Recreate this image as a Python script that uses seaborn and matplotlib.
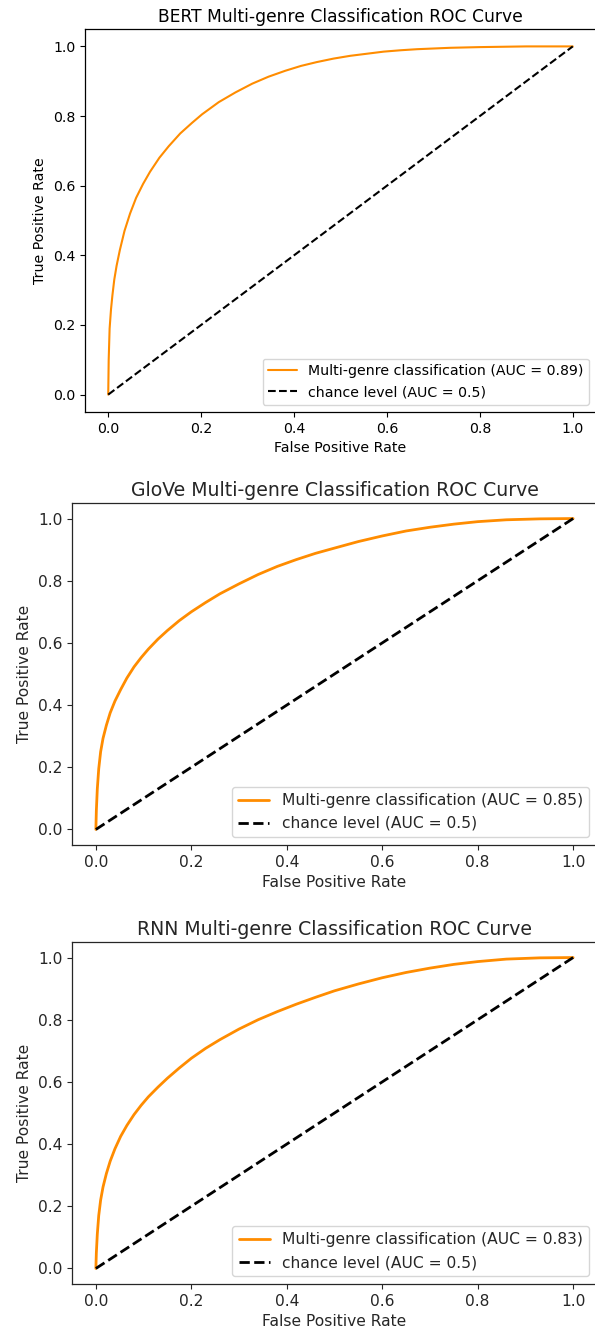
import numpy as np
import pandas as pd
import matplotlib
matplotlib.use("Agg")
import matplotlib.pyplot as plt
import seaborn as sns

# ---- data ----
models = ["BERT", "GloVe", "RNN"]
aucs = ["0.89", "0.85", "0.83"]

bert_fpr = [0.0, 0.001, 0.003, 0.006, 0.009, 0.013, 0.018, 0.025, 0.035, 0.047, 0.06, 0.075,
            0.09, 0.11, 0.13, 0.155, 0.18, 0.202, 0.238, 0.274, 0.31, 0.345, 0.381, 0.415,
            0.449, 0.485, 0.521, 0.557, 0.593, 0.63, 0.665, 0.736, 0.8, 0.9, 1.0]
bert_tpr = [0.0, 0.1, 0.19, 0.245, 0.285, 0.33, 0.37, 0.415, 0.47, 0.52, 0.565, 0.605,
            0.64, 0.68, 0.713, 0.75, 0.78, 0.805, 0.84, 0.868, 0.893, 0.913, 0.93, 0.944,
            0.955, 0.965, 0.973, 0.979, 0.985, 0.989, 0.992, 0.996, 0.998, 1.0, 1.0]

glove_fpr = [0.0, 0.001, 0.003, 0.006, 0.01, 0.015, 0.022, 0.03, 0.04, 0.052, 0.065, 0.08,
             0.095, 0.11, 0.13, 0.15, 0.175, 0.2, 0.23, 0.26, 0.3, 0.34, 0.38, 0.42, 0.46,
             0.5, 0.55, 0.6, 0.65, 0.7, 0.75, 0.8, 0.86, 0.93, 1.0]
glove_tpr = [0.0, 0.06, 0.13, 0.195, 0.25, 0.293, 0.335, 0.375, 0.413, 0.45, 0.487, 0.523,
             0.553, 0.58, 0.612, 0.64, 0.672, 0.70, 0.73, 0.758, 0.79, 0.82, 0.846, 0.868,
             0.888, 0.905, 0.926, 0.944, 0.96, 0.972, 0.982, 0.99, 0.996, 0.999, 1.0]

rnn_fpr = [0.0, 0.001, 0.003, 0.006, 0.01, 0.015, 0.022, 0.03, 0.04, 0.052, 0.065, 0.08,
           0.095, 0.11, 0.13, 0.15, 0.175, 0.2, 0.23, 0.26, 0.3, 0.34, 0.38, 0.42, 0.46,
           0.5, 0.55, 0.6, 0.65, 0.7, 0.75, 0.8, 0.86, 0.93, 1.0]
rnn_tpr = [0.0, 0.05, 0.11, 0.17, 0.22, 0.262, 0.305, 0.345, 0.385, 0.425, 0.46, 0.495,
           0.525, 0.552, 0.583, 0.612, 0.645, 0.676, 0.708, 0.736, 0.77, 0.8, 0.826, 0.85,
           0.872, 0.893, 0.915, 0.935, 0.952, 0.966, 0.978, 0.987, 0.995, 0.999, 1.0]

chance_x = [0.0, 1.0]
chance_y = [0.0, 1.0]

ticks = [0.0, 0.2, 0.4, 0.6, 0.8, 1.0]
tick_labels = ["0.0", "0.2", "0.4", "0.6", "0.8", "1.0"]

curves = [(bert_fpr, bert_tpr), (glove_fpr, glove_tpr), (rnn_fpr, rnn_tpr)]

# ---- layout (pixels) ----
W, H = 595, 1334
sns.set_style("ticks")
plt.rcParams["font.family"] = ["DejaVu Sans"]
fig = plt.figure(figsize=(W / 100, H / 100), dpi=100)

# left, right, top, bottom in pixels
boxes = [(85, 596, 29, 412), (72, 597, 503, 845), (72, 597, 942, 1284)]
styles = [
    dict(title=12.3, tick=10.2, label=10.2, leg=10.2, lw=1.5, dlw=1.5, col="black"),
    dict(title=13.6, tick=11.2, label=11.2, leg=11.2, lw=2.0, dlw=2.0, col="#262626"),
    dict(title=13.6, tick=11.2, label=11.2, leg=11.2, lw=2.0, dlw=2.0, col="#262626"),
]

for i, (model, auc, (fx, ty)) in enumerate(zip(models, aucs, curves)):
    l, r, t, b = boxes[i]
    st = styles[i]
    ax = fig.add_axes([l / W, 1 - b / H, (r - l) / W, (b - t) / H])
    df = pd.DataFrame({"fpr": fx, "tpr": ty})
    sns.lineplot(data=df, x="fpr", y="tpr", ax=ax, color="darkorange", lw=st["lw"],
                 estimator=None, sort=False,
                 label=f"Multi-genre classification (AUC = {auc})")
    cdf = pd.DataFrame({"x": chance_x, "y": chance_y})
    sns.lineplot(data=cdf, x="x", y="y", ax=ax, color="black", lw=st["dlw"],
                 linestyle="--", estimator=None, sort=False,
                 label="chance level (AUC = 0.5)")
    ax.set_xlim(-0.05, 1.05)
    ax.set_ylim(-0.05, 1.05)
    ax.set_xticks(ticks)
    ax.set_xticklabels(tick_labels)
    ax.set_yticks(ticks)
    ax.set_yticklabels(tick_labels)
    ax.tick_params(labelsize=st["tick"], colors=st["col"], length=3.5)
    for sp in ax.spines.values():
        sp.set_color(st["col"])
        sp.set_linewidth(0.9)
    ax.set_xlabel("False Positive Rate", fontsize=st["label"], color=st["col"])
    ax.set_ylabel("True Positive Rate", fontsize=st["label"], color=st["col"])
    ax.set_title(f"{model} Multi-genre Classification ROC Curve", fontsize=st["title"],
                 color=st["col"], pad=5)
    leg = ax.legend(loc="lower right", fontsize=st["leg"], frameon=True)
    for txt in leg.get_texts():
        txt.set_color(st["col"])

fig.savefig("out.png", dpi=100)
